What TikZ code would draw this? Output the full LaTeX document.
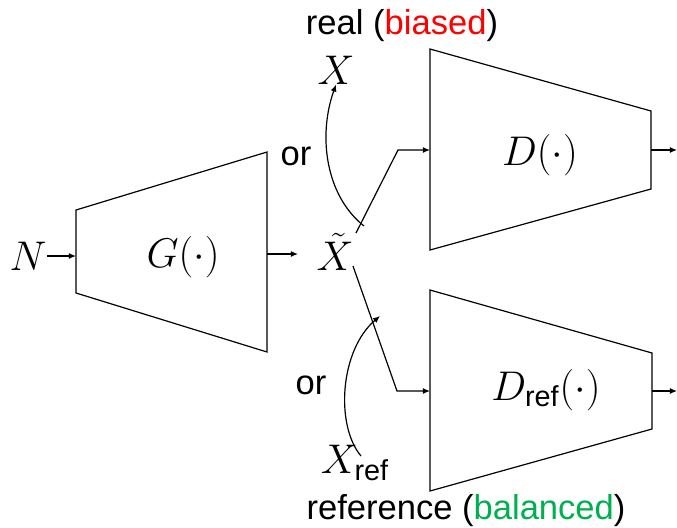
\documentclass[tikz,border=0pt]{standalone}
\usepackage{amsmath}
\usepackage{fontspec}
\setsansfont{Liberation Sans}
\usetikzlibrary{arrows.meta}
\definecolor{biasred}{RGB}{255,0,0}
\definecolor{balgreen}{RGB}{0,176,80}
\begin{document}
\begin{tikzpicture}[x=0.5pt,y=-0.5pt,
  box/.style={draw,line width=0.6pt},
  conn/.style={line width=0.6pt,-{Latex[length=3.5pt,width=3pt]}},
  plain/.style={line width=0.6pt},
  mathlbl/.style={inner sep=0pt,font=\huge},
  txt/.style={inner sep=0pt,font=\LARGE\sffamily}]
\useasboundingbox (0,0) rectangle (677,527);
% trapezoids
\draw[box] (76,210) -- (267,152) -- (267,352) -- (76,293) -- cycle;
\draw[box] (430,49) -- (651,111) -- (651,189) -- (430,250) -- cycle;
\draw[box] (430,290) -- (652,353) -- (652,429) -- (430,491) -- cycle;
% ports
\coordinate (Gin) at (76,256);
\coordinate (Gout) at (267,254);
\coordinate (Din) at (430,150);
\coordinate (Dout) at (651,150);
\coordinate (Dend) at (677,150);
\coordinate (Rin) at (430,391);
\coordinate (Rout) at (652,391);
\coordinate (Rend) at (677,391);
\coordinate (bendU) at (398,150);
\coordinate (bendL) at (397,391);
\coordinate (xtu) at (356,233);
\coordinate (xtl) at (353,266);
\coordinate (cu0) at (364,226);
\coordinate (cl0) at (361,456);
\coordinate (cltip) at (380,316);
% labels
\node[mathlbl] (N) at (28,256) {$N$};
\node[mathlbl] (G) at (183,257) {$G(\cdot)$};
\node[mathlbl] (Xt) at (335,252) {$\tilde{X}$};
\node[mathlbl] (X) at (336,70) {$X$};
\node[mathlbl] (D) at (540,155) {$D(\cdot)$};
\node[mathlbl] (Dr) at (546,390) {$D_{\text{\sffamily ref}}(\cdot)$};
\node[mathlbl] (Xr) at (355,463) {$X_{\text{\sffamily ref}}$};
\node[txt] (real) at (402,26) {real (\textcolor{biasred}{biased})};
\node[txt] (refer) at (466,511) {reference (\textcolor{balgreen}{balanced})};
\node[txt] (or1) at (296,156) {or};
\node[txt] (or2) at (311,385) {or};
% connectors
\draw[conn] (N.east) -- (Gin);
\draw[conn] (Gout) -- (298,254);
\draw[conn] (xtu) -- (bendU) -- (Din);
\draw[conn] (xtl) -- (bendL) -- (Rin);
\draw[conn] (Dout) -- (Dend);
\draw[conn] (Rout) -- (Rend);
\draw[conn] (cu0) .. controls (325,195) and (318,135) .. (X.south);
\draw[conn] (cl0) .. controls (335,425) and (340,350) .. (cltip);
\end{tikzpicture}
\end{document}
